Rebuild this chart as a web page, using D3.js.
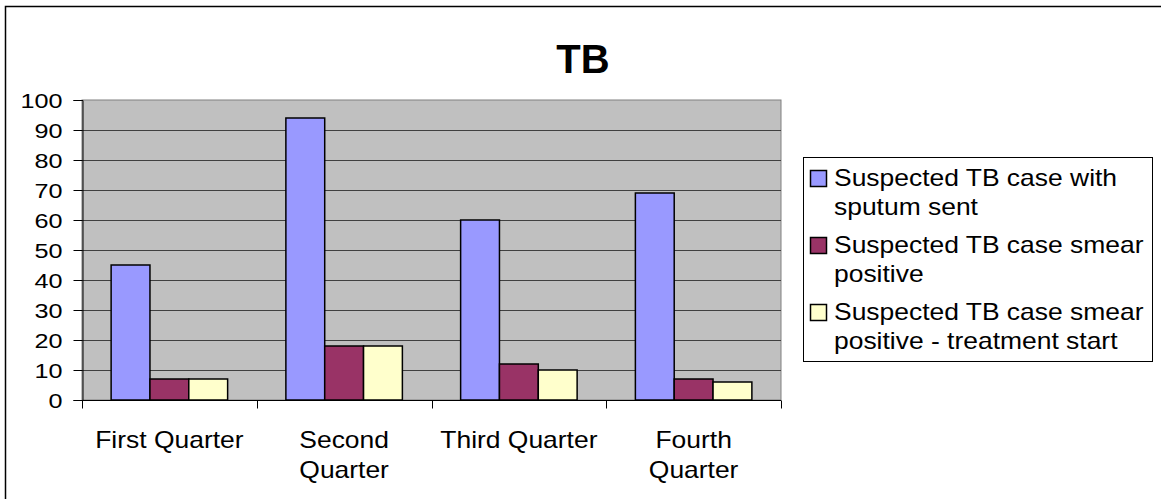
<!DOCTYPE html>
<html><head><meta charset="utf-8">
<script src="https://cdn.jsdelivr.net/npm/d3@7"></script>
<style>body{margin:0;background:#fff}svg{display:block}text{font-family:"Liberation Sans",Arial,sans-serif;fill:#000}</style>
</head><body><svg id="c" width="1161" height="499"></svg>
<script>
const title = "TB";
const categories = ["First Quarter", "Second Quarter", "Third Quarter", "Fourth Quarter"];
const seriesNames = ["Suspected TB case with sputum sent", "Suspected TB case smear positive", "Suspected TB case smear positive - treatment start"];
const sputumSent = [45, 94, 60, 69];
const smearPositive = [7, 18, 12, 7];
const treatmentStart = [7, 18, 10, 6];
const yTicks = [0, 10, 20, 30, 40, 50, 60, 70, 80, 90, 100];
const legendLines = [["Suspected TB case with", "sputum sent"], ["Suspected TB case smear", "positive"], ["Suspected TB case smear", "positive - treatment start"]];
const colors = ["#9999FF", "#993366", "#FFFFCC"];
const seriesValues = [sputumSent, smearPositive, treatmentStart];

const svg = d3.select("#c");
const SX = 1.2, FS = 21;      // y tick labels
const SX2 = 1.15, FS2 = 23;   // category and legend labels
const L = 82, R = 781, T = 100, B = 400;

svg.append("rect").attr("x", 5.5).attr("y", 6.5).attr("width", 1300).attr("height", 700)
  .attr("fill", "#fff").attr("stroke", "#000").attr("stroke-width", 1.5);

const x = d3.scaleBand().domain(categories).range([L, R]).paddingInner(0).paddingOuter(0);
const y = d3.scaleLinear().domain([0, 100]).range([B, T]);
const bw = x.bandwidth() / 4.5;
const xs = d3.scaleBand().domain(d3.range(3)).range([0, bw * 3]);

function stext(g, txt, tx, ty, anchor, size, weight, sx) {
  return g.append("text").attr("transform", `translate(${tx},${ty}) scale(${sx},1)`)
    .attr("text-anchor", anchor).attr("font-size", size).attr("font-weight", weight || "normal").text(txt);
}

// title
stext(svg, title, 583, 73, "middle", 40, "bold", 1);

// plot area
svg.append("rect").attr("x", L).attr("y", T).attr("width", R - L).attr("height", B - T)
  .attr("fill", "#C0C0C0").attr("stroke", "#808080").attr("stroke-width", 1);

// gridlines
svg.append("g").selectAll("line").data(yTicks.filter(d => d > 0 && d < 100)).join("line")
  .attr("x1", L).attr("x2", R).attr("y1", d => Math.round(y(d)) + 0.5).attr("y2", d => Math.round(y(d)) + 0.5)
  .attr("stroke", "#404040").attr("stroke-width", 1);

// bars
const groups = svg.append("g").selectAll("g").data(seriesValues).join("g").attr("fill", (d, i) => colors[i]);
groups.each(function (vals, si) {
  d3.select(this).selectAll("rect").data(vals).join("rect")
    .attr("x", (d, i) => x(categories[i]) + bw * 0.75 + xs(si))
    .attr("y", d => y(d)).attr("width", bw).attr("height", d => B - y(d))
    .attr("stroke", "#000").attr("stroke-width", 1.5);
});

// y axis
const yAxis = svg.append("g").attr("transform", `translate(${L + 0.5},0)`)
  .call(d3.axisLeft(y).tickValues(yTicks).tickSize(9).tickPadding(11).tickFormat(d3.format("d")));
yAxis.select(".domain").attr("stroke", "#000");
yAxis.selectAll(".tick line").attr("stroke", "#000");
yAxis.selectAll(".tick text").remove();
yAxis.selectAll(".tick").each(function (d) {
  stext(d3.select(this), String(d), -20, 7.5, "end", FS, "normal", SX);
});

// x axis
const xAxis = svg.append("g").attr("transform", `translate(0,${B + 0.5})`);
xAxis.append("line").attr("x1", L).attr("x2", R).attr("stroke", "#000");
xAxis.selectAll(".tk").data(d3.range(categories.length + 1)).join("line").attr("class", "tk")
  .attr("x1", i => Math.round(L + i * x.step()) + 0.5).attr("x2", i => Math.round(L + i * x.step()) + 0.5)
  .attr("y1", 0).attr("y2", 8).attr("stroke", "#000");

// category labels with wrap
const measure = svg.append("text").attr("font-size", FS2).attr("opacity", 0);
function wrap(txt, maxW) {
  measure.text(txt);
  if (measure.node().getComputedTextLength() * SX2 <= maxW) return [txt];
  const words = txt.split(" ");
  const lines = []; let cur = "";
  words.forEach(w => {
    const t = cur ? cur + " " + w : w;
    measure.text(t);
    if (measure.node().getComputedTextLength() * SX2 > maxW && cur) { lines.push(cur); cur = w; } else cur = t;
  });
  lines.push(cur);
  return lines;
}
categories.forEach(c => {
  const lines = wrap(c, 165);
  lines.forEach((ln, k) => stext(svg, ln, x(c) + x.bandwidth() / 2, 448 + k * 30, "middle", FS2, "normal", SX2));
});
measure.remove();

// legend
const lg = svg.append("g");
lg.append("rect").attr("x", 803.5).attr("y", 157.5).attr("width", 349).attr("height", 204)
  .attr("fill", "#fff").attr("stroke", "#000").attr("stroke-width", 1);
seriesNames.forEach((name, i) => {
  const by = 186 + i * 67;
  lg.append("rect").attr("x", 810.5).attr("y", by - 15.5).attr("width", 16).attr("height", 16)
    .attr("fill", colors[i]).attr("stroke", "#000").attr("stroke-width", 1.5);
  legendLines[i].forEach((ln, k) => stext(lg, ln, 834, by + k * 29, "start", FS2, "normal", SX2));
});
</script></body></html>
